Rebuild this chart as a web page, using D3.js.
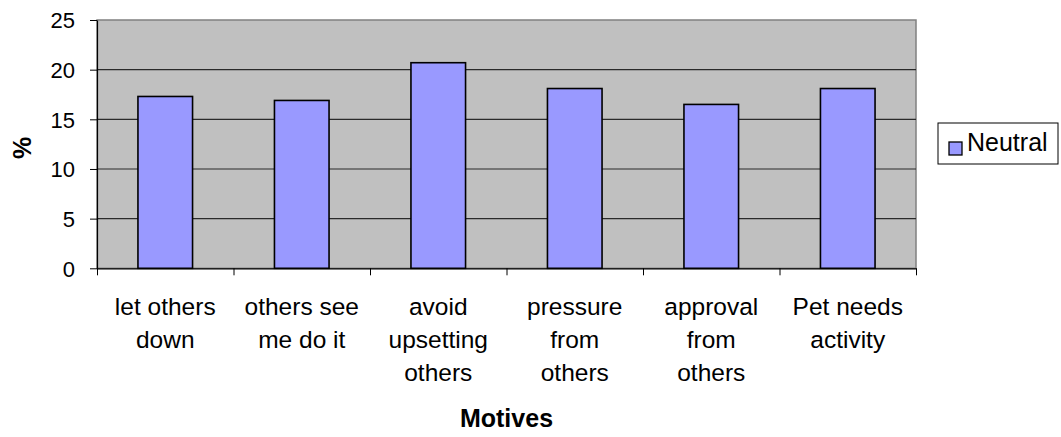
<!DOCTYPE html>
<html>
<head>
<meta charset="utf-8">
<script src="https://cdn.jsdelivr.net/npm/d3@7"></script>
<style>
  body { margin: 0; background: #fff; }
  text { font-family: "Liberation Sans", Arial, sans-serif; fill: #000; }
</style>
</head>
<body>
<div id="chart"></div>
<script>
// data
var categories = ["let others down", "others see me do it", "avoid upsetting others",
                  "pressure from others", "approval from others", "Pet needs activity"];
var categoryLines = [["let others", "down"], ["others see", "me do it"], ["avoid", "upsetting", "others"],
                     ["pressure", "from", "others"], ["approval", "from", "others"], ["Pet needs", "activity"]];
var neutral = [17.3, 16.9, 20.7, 18.1, 16.5, 18.1];
var yTicks = [0, 5, 10, 15, 20, 25];
var seriesName = "Neutral";

var width = 1061, height = 437;
var plotLeft = 97, plotRight = 916, plotTop = 20, plotBottom = 268.3;

var svg = d3.select("#chart")
  .append("svg")
  .attr("width", width)
  .attr("height", height);

var x = d3.scaleBand()
  .domain(categories)
  .range([plotLeft, plotRight])
  .paddingInner(0.6)
  .paddingOuter(0.3);

var xEdges = d3.scaleLinear()
  .domain([0, categories.length])
  .range([plotLeft, plotRight]);

var y = d3.scaleLinear()
  .domain([0, 25])
  .range([plotBottom, plotTop]);

// plot area
svg.append("rect")
  .attr("x", plotLeft)
  .attr("y", plotTop)
  .attr("width", plotRight - plotLeft)
  .attr("height", plotBottom - plotTop)
  .style("fill", "#c0c0c0")
  .style("stroke", "#808080")
  .style("stroke-width", 1.5);

// gridlines
svg.append("g").selectAll("line")
  .data(yTicks.filter(function(d) { return d > 0 && d < 25; }))
  .enter()
  .append("line")
  .attr("x1", plotLeft)
  .attr("x2", plotRight)
  .attr("y1", function(d) { return y(d); })
  .attr("y2", function(d) { return y(d); })
  .style("stroke", "#2a2a2a")
  .style("stroke-width", 1.2);

// bars
svg.append("g").selectAll("rect")
  .data(neutral)
  .enter()
  .append("rect")
  .attr("x", function(d, i) { return x(categories[i]); })
  .attr("y", function(d) { return y(d); })
  .attr("width", x.bandwidth())
  .attr("height", function(d) { return y(0) - y(d); })
  .style("fill", "#9999ff")
  .style("stroke", "#000")
  .style("stroke-width", 1.6);

// y axis
var yAxis = svg.append("g")
  .attr("transform", "translate(" + plotLeft + ",0)")
  .call(d3.axisLeft(y).tickValues(yTicks).tickSize(7).tickPadding(15).tickSizeOuter(0));
yAxis.select(".domain").style("stroke", "#000").style("stroke-width", 1.2);
yAxis.selectAll(".tick line").style("stroke", "#000");
yAxis.selectAll("text")
  .style("font-size", "22px")
  .style("font-family", "Liberation Sans, Arial, sans-serif")
  .attr("dy", "0.36em");

// x axis (ticks at category edges)
var xAxis = svg.append("g")
  .attr("transform", "translate(0," + plotBottom + ")")
  .call(d3.axisBottom(xEdges).ticks(categories.length).tickSize(7).tickSizeOuter(0).tickFormat(""));
xAxis.select(".domain").style("stroke", "#000").style("stroke-width", 1.2);
xAxis.selectAll(".tick line").style("stroke", "#000");

// category labels
svg.append("g").selectAll("text")
  .data(categories)
  .enter()
  .append("text")
  .attr("x", function(d) { return x(d) + x.bandwidth() / 2; })
  .attr("y", 315)
  .style("text-anchor", "middle")
  .style("font-size", "24.5px")
  .each(function(d, i) {
    var t = d3.select(this);
    categoryLines[i].forEach(function(line, j) {
      t.append("tspan")
        .attr("x", x(d) + x.bandwidth() / 2)
        .attr("dy", j === 0 ? 0 : 33)
        .text(line);
    });
  });

// axis titles
svg.append("text")
  .attr("x", (plotLeft + plotRight) / 2)
  .attr("y", 427)
  .style("text-anchor", "middle")
  .style("font-size", "25px")
  .style("font-weight", "bold")
  .text("Motives");

svg.append("text")
  .attr("transform", "translate(31,148)rotate(-90)")
  .style("text-anchor", "middle")
  .style("font-size", "25px")
  .style("font-weight", "bold")
  .text("%");

// legend
var legend = svg.append("g").attr("class", "legend");
legend.append("rect")
  .attr("x", 938)
  .attr("y", 123)
  .attr("width", 120)
  .attr("height", 41)
  .style("fill", "#fff")
  .style("stroke", "#000")
  .style("stroke-width", 1);
legend.append("rect")
  .attr("x", 949)
  .attr("y", 142)
  .attr("width", 13)
  .attr("height", 13)
  .style("fill", "#9999ff")
  .style("stroke", "#000")
  .style("stroke-width", 1.3);
legend.append("text")
  .attr("x", 967)
  .attr("y", 151)
  .style("font-size", "25px")
  .text(seriesName);
</script>
</body>
</html>
